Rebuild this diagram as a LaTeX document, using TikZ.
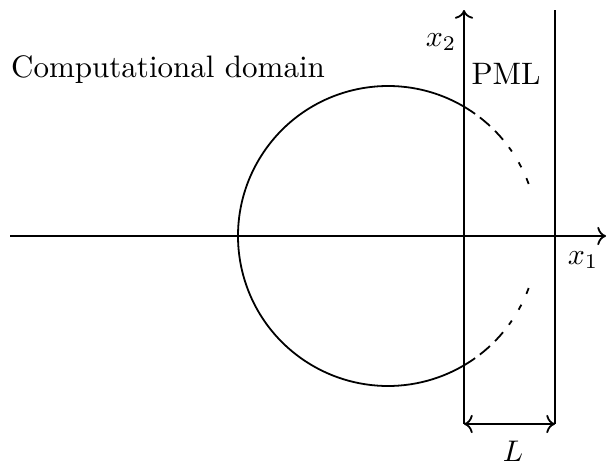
\documentclass[tikz,border=0pt]{standalone}
\usepackage{amsmath,amssymb}
\usepackage{tikz}
\usetikzlibrary{arrows.meta,positioning,calc}

\begin{document}
\begin{tikzpicture}[
  x=0.1178cm,y=0.1178cm,
  font=\fontsize{10.4}{12.5}\selectfont,
  axis/.style={->,semithick},
  bound/.style={semithick},
  arr/.style={<->,semithick},
  fadedash/.style={semithick,dash pattern=on 0pt off 2pt on 4.4pt off 2.4pt on 4pt off 3.2pt on 1.7pt off 4.3pt on 1.9pt off 4pt on 2.2pt off 30pt},
]
\useasboundingbox (0,0) rectangle (60.8,46.4);

% axes and PML boundary
\coordinate (o) at (46.4,22.8);
\coordinate (xl) at (1.0,22.8);
\coordinate (xr) at (60.6,22.8);
\coordinate (yb) at (46.4,4.0);
\coordinate (yt) at (46.4,45.4);
\coordinate (pb) at (55.5,4.0);
\coordinate (pt) at (55.5,45.4);
\draw[axis] (xl) -- (xr);
\draw[axis] (yb) -- (yt);
\draw[bound] (pb) -- (pt);
\draw[arr] (yb) -- (pb);

% circle
\coordinate (c) at (38.8,22.8);
\draw[semithick] ($(c)+(54.5:15)$) arc (54.5:305.5:15);
\draw[fadedash] ($(c)+(54.5:15)$) arc (54.5:20.3:15);
\draw[fadedash] ($(c)+(-54.5:15)$) arc (-54.5:-20.3:15);

% labels
\node (x1) at (58.3,20.4) {$x_1$};
\node (x2) at (44.1,42.2) {$x_2$};
\node (len) at (51.3,1.3) {$L$};
\node (pml) at (50.6,39.0) {PML};
\node (dom) at (16.8,39.4) {Computational domain};

\end{tikzpicture}
\end{document}
